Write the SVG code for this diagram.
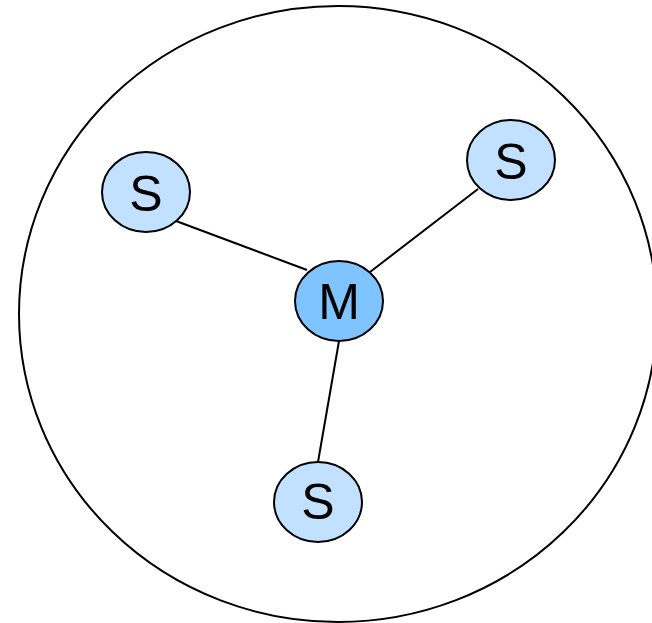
<svg xmlns="http://www.w3.org/2000/svg" width="652" height="623" viewBox="0 0 652 623">
<style>
.n{stroke:#000;stroke-width:2}
.s{fill:#c2e0ff}
.m{fill:#80c4ff}
.t{font-family:"Liberation Sans",Arial,sans-serif;font-size:50px;fill:#000;text-anchor:middle}
.e{stroke:#000;stroke-width:2;fill:none}
</style>
<rect width="652" height="623" fill="#fff"/>
<g id="boundary"><ellipse cx="338" cy="314" rx="319" ry="308" fill="none" stroke="#000" stroke-width="2"/></g>
<g id="connectors">
<line class="e" x1="176" y1="221" x2="307" y2="270"/>
<line class="e" x1="478" y1="189" x2="370" y2="272"/>
<line class="e" x1="339" y1="341" x2="318" y2="462"/>
</g>
<g id="M"><ellipse class="n m" cx="339" cy="301" rx="44" ry="40"/><text class="t" x="339" y="319">M</text></g>
<g id="S1"><ellipse class="n s" cx="146" cy="192" rx="44" ry="40"/><text class="t" x="146" y="211">S</text></g>
<g id="S2"><ellipse class="n s" cx="511" cy="160" rx="44" ry="40"/><text class="t" x="511" y="179">S</text></g>
<g id="S3"><ellipse class="n s" cx="318" cy="502" rx="44" ry="40"/><text class="t" x="318" y="519">S</text></g>
</svg>
